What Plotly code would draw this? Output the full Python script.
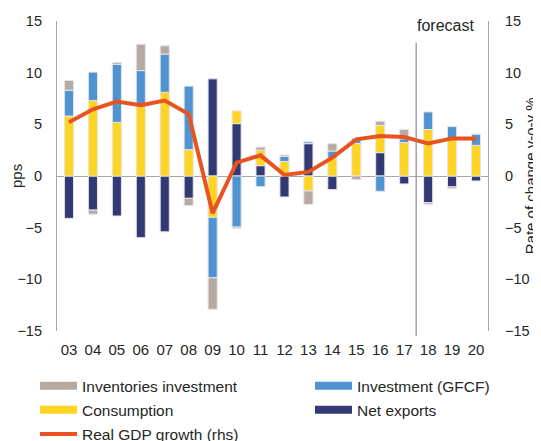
import plotly.graph_objects as go

# ================== DATA ==================
years = ['03', '04', '05', '06', '07', '08', '09', '10', '11', '12',
         '13', '14', '15', '16', '17', '18', '19', '20']

net_exports = [-4.1, -3.3, -3.87, -5.97, -5.4, -2.16, 9.4, 5.07, 1.0, -2.03,
               3.13, -1.32, 0.0, 2.26, -0.77, -2.58, -1.06, -0.48]
consumption = [5.8, 7.3, 5.2, 6.8, 8.1, 2.55, -4.0, 1.23, 1.5, 1.4,
               -1.45, 1.7, 3.16, 2.64, 3.23, 4.5, 3.6, 2.97]
investment = [2.5, 2.75, 5.6, 3.4, 3.7, 6.15, -5.85, -4.94, -1.03, 0.5,
              0.17, 0.72, 0.49, -1.48, 0.37, 1.7, 1.18, 1.09]
inventories = [0.95, -0.4, 0.17, 2.55, 0.8, -0.7, -3.05, -0.12, 0.3, 0.13,
               -1.29, 0.71, -0.35, 0.4, 0.9, -0.16, -0.17, 0.0]
gdp_growth = [5.2, 6.45, 7.2, 6.85, 7.3, 6.0, -3.6, 1.3, 2.0, 0.1,
              0.4, 1.77, 3.55, 3.87, 3.77, 3.16, 3.64, 3.64]

# ================== STYLE ==================
FONT = "Liberation Sans, Arial, sans-serif"
TXT = '#262626'
AX = '#a6a6a6'
C_INV = '#b7aaa1'
C_GFCF = '#4f93d0'
C_CONS = '#ffd422'
C_NX = '#313a73'
C_GDP = '#e9531f'

# page body has an 8px margin, so the figure is 8px smaller than the window
W, H = 533, 433

fig = go.Figure()

# stacking order from zero outwards; (name, values, colour, legend, rank)
bars = [
    ('Net exports', net_exports, C_NX, 'legend2', 2),
    ('Consumption', consumption, C_CONS, 'legend', 2),
    ('Investment (GFCF)', investment, C_GFCF, 'legend2', 1),
    ('Inventories investment', inventories, C_INV, 'legend', 1),
]
for name, vals, col, leg, rank in bars:
    fig.add_trace(go.Bar(x=years, y=vals, name=name, marker_color=col,
                         marker_line=dict(color='#e4e4ec', width=1),
                         width=0.38, showlegend=False))
    # legend swatch as a wide flat bar
    fig.add_trace(go.Scatter(x=[None], y=[None], mode='lines', name=name,
                             line=dict(color=col, width=8), legend=leg,
                             legendgroup=name, legendrank=rank))

fig.add_trace(go.Scatter(x=years, y=gdp_growth, name='Real GDP growth (rhs)',
                         mode='lines', line=dict(color=C_GDP, width=4),
                         yaxis='y2', legend='legend', legendgroup='gdp',
                         legendrank=3))

fig.add_shape(type='line', xref='x', yref='paper', x0=14.5, x1=14.5,
              y0=-0.015, y1=0.93, line=dict(color='#8c8c8c', width=1.2))
fig.add_annotation(text='forecast', xref='paper', yref='paper', x=0.901, y=0.987,
                   xanchor='center', yanchor='middle', showarrow=False,
                   font=dict(size=16, color=TXT))
fig.add_annotation(text='pps', xref='paper', yref='paper', x=-0.095, y=0.5,
                   xanchor='center', yanchor='middle', textangle=-90,
                   showarrow=False, font=dict(size=15, color=TXT))
fig.add_annotation(text='Rate of change y-o-y %', xref='paper', yref='paper',
                   x=1.098, y=0.5, xanchor='center', yanchor='middle',
                   textangle=-90, showarrow=False, font=dict(size=15, color=TXT))

legend_style = dict(orientation='v', xanchor='left', yanchor='top',
                    font=dict(size=15.5), itemwidth=37, tracegroupgap=1,
                    bgcolor='rgba(0,0,0,0)')

fig.update_layout(
    width=W, height=H,
    margin=dict(l=49, r=53, t=13, b=110, autoexpand=False),
    barmode='relative',
    plot_bgcolor='white', paper_bgcolor='white',
    font=dict(family=FONT, color=TXT, size=14.5),
    xaxis=dict(type='category', showline=False, showgrid=False, ticks='',
               ticklabelstandoff=8, tickfont=dict(size=15)),
    yaxis=dict(range=[-15, 15], dtick=5, showgrid=False, showline=True,
               linecolor=AX, linewidth=1.2, zeroline=True, zerolinecolor=AX,
               zerolinewidth=1.2, ticks='', ticklabelstandoff=11),
    yaxis2=dict(range=[-15, 15], dtick=5, overlaying='y', side='right',
                showgrid=False, showline=True, linecolor=AX, linewidth=1.2,
                zeroline=False, ticks='', ticklabelstandoff=13),
    legend=dict(x=-0.051, y=-0.123, **legend_style),
    legend2=dict(x=0.587, y=-0.123, **legend_style),
)

fig.write_html("out.html")
